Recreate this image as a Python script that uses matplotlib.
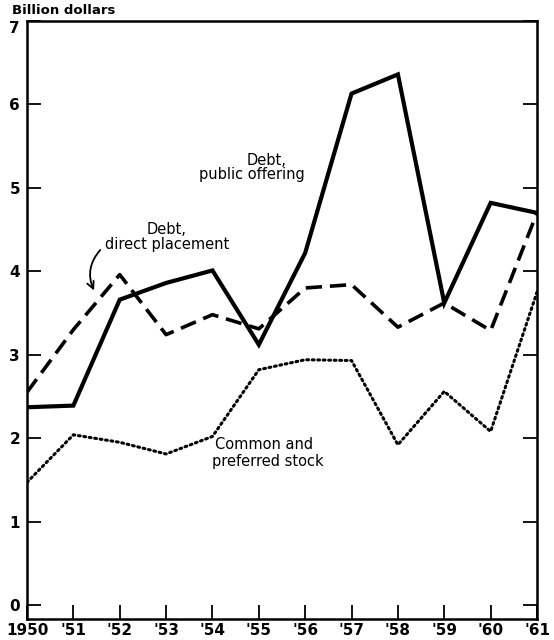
import matplotlib
matplotlib.use("Agg")
import matplotlib.pyplot as plt

years = [1950, 1951, 1952, 1953, 1954, 1955, 1956, 1957, 1958, 1959, 1960, 1961]
public_offering = [2.37, 2.39, 3.66, 3.86, 4.01, 3.12, 4.22, 6.13, 6.36, 3.62, 4.82, 4.70]
direct_placement = [2.55, 3.30, 3.96, 3.24, 3.48, 3.31, 3.80, 3.84, 3.33, 3.62, 3.29, 4.70]
stock = [1.47, 2.04, 1.95, 1.81, 2.02, 2.82, 2.94, 2.93, 1.92, 2.56, 2.08, 3.75]
xtick_labels = ["1950", "'51", "'52", "'53", "'54", "'55", "'56", "'57", "'58", "'59", "'60", "'61"]
yticks = [0, 1, 2, 3, 4, 5, 6, 7]

plt.rcParams['font.family'] = ['DejaVu Sans']

fig = plt.figure(figsize=(5.54, 6.4), dpi=100)
ax = fig.add_axes([27/554, 1-619/640, 510/554, 598/640])

ax.plot(years, public_offering, color='black', lw=3.0, solid_joinstyle='miter')
ax.plot(years, direct_placement, color='black', lw=2.6, linestyle=(0, (4.5, 2.2)))
ax.plot(years, stock, color='black', lw=2.2, linestyle=(0, (0.6, 1.2)), dash_capstyle='round')

ax.set_xlim(1950, 1961)
ax.set_ylim(-0.168, 7)
ax.set_xticks(years)
ax.set_xticklabels(xtick_labels)
ax.set_yticks(yticks)
ax.set_yticklabels([str(v) for v in yticks])

for s in ['left', 'bottom', 'right', 'top']:
    ax.spines[s].set_linewidth(1.8)

ax.tick_params(axis='both', direction='in', length=10, width=1.3, labelsize=11)
ax.tick_params(axis='y', which='both', right=True, labelright=False, pad=5)
ax.tick_params(axis='x', pad=3)
for lab in ax.get_xticklabels() + ax.get_yticklabels():
    lab.set_fontweight('bold')
ax.get_yticklabels()[-1].set_verticalalignment('top')

fig.text(12/554, 1-11/640, "Billion dollars", fontsize=9.5, fontweight='bold',
         ha='left', va='center')

tkw = dict(fontsize=10.5, ha='center', va='center', color='black')
ax.text(1955.16, 5.33, "Debt,", **tkw)
ax.text(1954.85, 5.16, "public offering", **tkw)
ax.text(1953.0, 4.50, "Debt,", **tkw)
ax.text(1953.02, 4.32, "direct placement", **tkw)
ax.text(1955.11, 1.92, "Common and", **tkw)
ax.text(1955.2, 1.72, "preferred stock", **tkw)

ax.annotate("", xy=(1951.47, 3.74), xytext=(1951.62, 4.28),
            arrowprops=dict(arrowstyle="->,head_length=0.5,head_width=0.25",
                            connectionstyle="arc3,rad=0.35", lw=1.3, color='black'))

fig.savefig("out.png", dpi=100)
